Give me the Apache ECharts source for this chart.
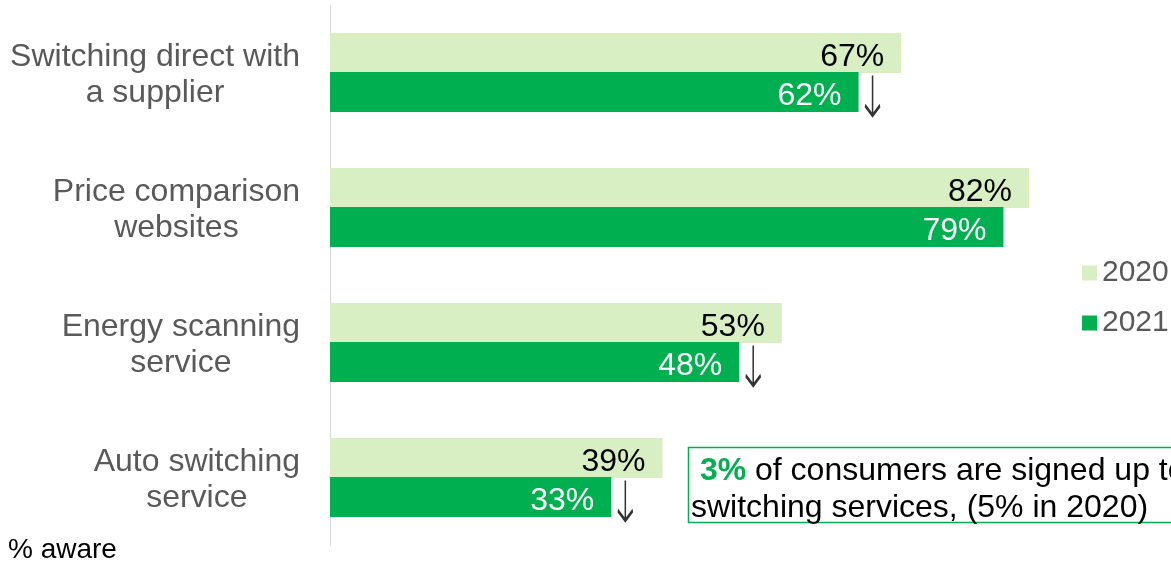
<!DOCTYPE html>
<html>
<head>
<meta charset="utf-8">
<script src="https://cdn.jsdelivr.net/npm/echarts@6/dist/echarts.min.js"></script>
<style>html,body{margin:0;padding:0;background:#fff;}#c{width:1171px;height:562px;}</style>
</head>
<body>
<div id="c"></div>
<script>
const categories = ['Switching direct with\na supplier', 'Price comparison\nwebsites', 'Energy scanning\nservice', 'Auto switching\nservice'];
const values2020 = [67, 82, 53, 39];
const values2021 = [62, 79, 48, 33];
const decreases = [[62, 'Switching direct with\na supplier'], [48, 'Energy scanning\nservice'], [33, 'Auto switching\nservice']];
const seriesNames = ['2020', '2021'];

const FONT = '"Liberation Sans", Arial, sans-serif';
const chart = echarts.init(document.getElementById('c'));
chart.setOption({
  animation: false,
  backgroundColor: '#fff',
  textStyle: { fontFamily: FONT },
  grid: { left: 330, top: 5, right: 0, height: 540, containLabel: false },
  xAxis: { type: 'value', min: 0, max: 98.65, show: false },
  yAxis: {
    type: 'category', data: categories, inverse: true,
    axisLine: { show: true, lineStyle: { color: '#d9d9d9', width: 1 } },
    axisTick: { show: false },
    splitLine: { show: false },
    axisLabel: {
      margin: 30, align: 'right', fontSize: 32, color: '#595959', fontFamily: FONT,
      padding: [6, 0, 0, 0],
      formatter: v => v.split('\n').map(s => '{c|' + s + '}').join('\n'),
      rich: { c: { align: 'center', fontSize: 32, lineHeight: 36, color: '#595959', fontFamily: FONT } }
    }
  },
  legend: {
    data: seriesNames, orient: 'vertical', left: 1077, top: 253,
    itemWidth: 15, itemHeight: 15, itemGap: 20, icon: 'rect',
    textStyle: { fontSize: 30, color: '#595959', fontFamily: FONT }
  },
  series: [
    {
      name: '2020', type: 'bar', data: values2020, barWidth: 40, barGap: '-2%',
      itemStyle: { color: '#d8efc3' },
      label: { show: true, position: 'insideRight', distance: 17, offset: [0, 4], formatter: '{c}%', fontSize: 32, color: '#000', fontFamily: FONT }
    },
    {
      name: '2021', type: 'bar', data: values2021, barWidth: 40,
      itemStyle: { color: '#00b050' },
      label: { show: true, position: 'insideRight', distance: 17, offset: [0, 4], formatter: '{c}%', fontSize: 32, color: '#fff', fontFamily: FONT }
    },
    {
      name: 'decrease', type: 'scatter', data: decreases, clip: false,
      symbol: 'path://M7,0 L7,40 M0,30 L7,40 L14,30',
      symbolSize: [15, 40], symbolOffset: [14, 23],
      itemStyle: { color: 'rgba(0,0,0,0)', borderColor: '#000', borderWidth: 2.5 },
      silent: true, z: 5
    }
  ],
  graphic: [
    { type: 'rect', shape: { x: 688.5, y: 447.5, width: 520, height: 75 }, style: { fill: 'none', stroke: '#00b050', lineWidth: 1.5 } },
    { type: 'text', x: 691, y: 453, style: {
      text: '{g| 3%}{b| of consumers are signed up to}\n{b|switching services, (5% in 2020)}',
      font: '32px ' + FONT,
      rich: {
        g: { fontSize: 32, fontWeight: 'bold', fill: '#00b050', lineHeight: 37, fontFamily: FONT },
        b: { fontSize: 32, fill: '#000', lineHeight: 37, fontFamily: FONT }
      }
    } },
    { type: 'text', x: 8, y: 536, style: { text: '% aware', font: '28px ' + FONT, fill: '#000' } }
  ]
});
</script>
</body>
</html>
